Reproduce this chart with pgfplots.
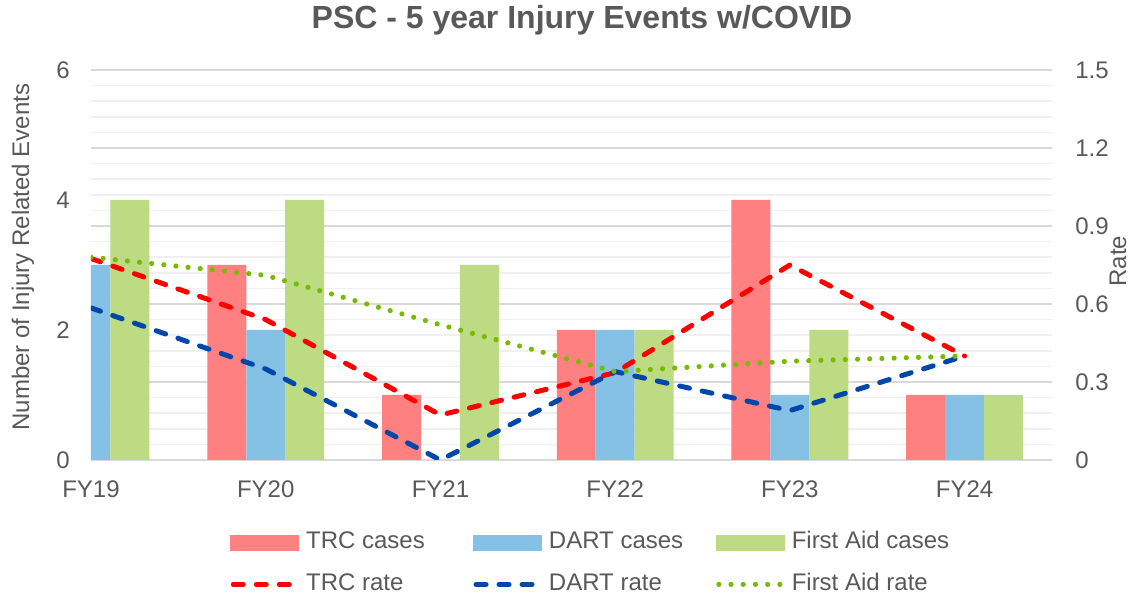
\documentclass[border=0pt]{standalone}
\usepackage{pgfplots}
\pgfplotsset{compat=1.18}
\usepackage{fontspec}
\setmainfont{Liberation Sans}
\definecolor{trcbar}{HTML}{FF8080}
\definecolor{dartbar}{HTML}{85C1E5}
\definecolor{fabar}{HTML}{BDDB82}
\definecolor{trcline}{HTML}{FF0000}
\definecolor{dartline}{HTML}{0047AB}
\definecolor{faline}{HTML}{77BB00}
\definecolor{txt}{HTML}{595959}
\definecolor{gridmaj}{HTML}{D9D9D9}
\definecolor{gridmin}{HTML}{F0F0F0}
\pgfplotsset{
  lineleg/.style={legend image code/.code={\draw[##1] (1.25pt,0pt) -- (32.75pt,0pt);}},
  base/.style={scale only axis, width=480.5pt, height=195pt, xmin=0, xmax=5.5,
    major tick length=0pt, minor tick length=0pt,
    /pgf/number format/assume math mode=true,
    tick label style={font=\fontsize{12}{14}\selectfont, text=txt}},
}
\begin{document}
\begin{tikzpicture}
\path[use as bounding box] (-45.5pt,-67pt) rectangle (525.5pt,230pt);
\node[font=\fontsize{16}{19}\selectfont\bfseries, text=txt] at (245.5pt,220pt) {PSC - 5 year Injury Events w/COVID};
% grid + right axis
\begin{axis}[base, ymin=0, ymax=1.5,
  ytick={0,0.3,0.6,0.9,1.2,1.5}, yticklabels={0,0.3,0.6,0.9,1.2,1.5},
  minor y tick num=4, ymajorgrids, yminorgrids,
  major grid style={draw=gridmaj, line width=0.75pt},
  minor grid style={draw=gridmin, line width=0.75pt},
  xtick=\empty, axis line style={draw=none},
  yticklabel pos=right,
  yticklabel style={anchor=west, inner sep=0pt, xshift=11.5pt},
  ylabel={Rate},
  every axis y label/.style={at={(axis description cs:1.0687,0.51)}, rotate=90, anchor=center,
    font=\fontsize{12}{14}\selectfont, text=txt}]
\end{axis}
% bars
\begin{axis}[base, ymin=0, ymax=6, ytick={0,2,4,6},
  xtick={0,1,2,3,4,5}, xticklabels={FY19,FY20,FY21,FY22,FY23,FY24},
  axis x line*=bottom, axis y line*=left,
  x axis line style={draw=gridmaj, line width=1pt, -},
  y axis line style={draw=none},
  yticklabel style={anchor=east, inner sep=0pt, xshift=-10.5pt},
  xticklabel style={anchor=north, inner sep=0pt, yshift=-10pt},
  ybar, bar width=0.2229,
  ylabel={Number of Injury Related Events},
  every axis y label/.style={at={(axis description cs:-0.0708,0.5205)}, rotate=90, anchor=center,
    font=\fontsize{12}{14}\selectfont, text=txt}]
\addplot[fill=trcbar, draw=none, bar shift=-0.2229] coordinates {(1,3) (2,1) (3,2) (4,4) (5,1)};
\addplot[fill=dartbar, draw=none, bar shift=0] coordinates {(0,3) (1,2) (3,2) (4,1) (5,1)};
\addplot[fill=fabar, draw=none, bar shift=0.2229] coordinates {(0,4) (1,4) (2,3) (3,2) (4,2) (5,1)};
\end{axis}
% lines + legend
\begin{axis}[base, ymin=0, ymax=1.5, hide axis,
  legend columns=3,
  legend style={at={(axis description cs:0.1446,-0.1795)}, anchor=north west,
    draw=none, fill=none, inner sep=0pt, row sep=9pt,
    font=\fontsize{12}{14}\selectfont, text=txt,
    nodes={inner sep=0pt, text height=9pt, text depth=3pt},
    /tikz/every odd column/.append style={column sep=3.5pt}},
  legend cell align=left]
\addlegendimage{legend image code/.code={\fill[trcbar] (0pt,-3.75pt) rectangle (34pt,3.75pt);}}
\addlegendentry{\makebox[83.5pt][l]{TRC cases}}
\addlegendimage{legend image code/.code={\fill[dartbar] (0pt,-3.75pt) rectangle (34pt,3.75pt);}}
\addlegendentry{\makebox[83.5pt][l]{DART cases}}
\addlegendimage{legend image code/.code={\fill[fabar] (0pt,-3.75pt) rectangle (34pt,3.75pt);}}
\addlegendentry{\makebox[83.5pt][l]{First Aid cases}}
\addplot[trcline, line width=2.5pt, dash pattern=on 5pt off 6.5pt, line cap=round, lineleg]
  coordinates {(0,0.775) (1,0.54) (2,0.173) (3,0.336) (4,0.75) (5,0.40)};
\addlegendentry{\makebox[83.5pt][l]{TRC rate}}
\addplot[dartline, line width=2.5pt, dash pattern=on 5pt off 6.5pt, line cap=round, lineleg]
  coordinates {(0,0.585) (1,0.35) (2,0) (3,0.34) (4,0.19) (5,0.40)};
\addlegendentry{\makebox[83.5pt][l]{DART rate}}
\addplot[faline, line width=2.6pt, dash pattern=on 0pt off 6.1pt, line cap=round, lineleg]
  coordinates {(0,0.78) (1,0.71) (2,0.52) (3,0.34) (4,0.38) (5,0.40)};
\addlegendentry{\makebox[83.5pt][l]{First Aid rate}}
\end{axis}
\end{tikzpicture}
\end{document}
